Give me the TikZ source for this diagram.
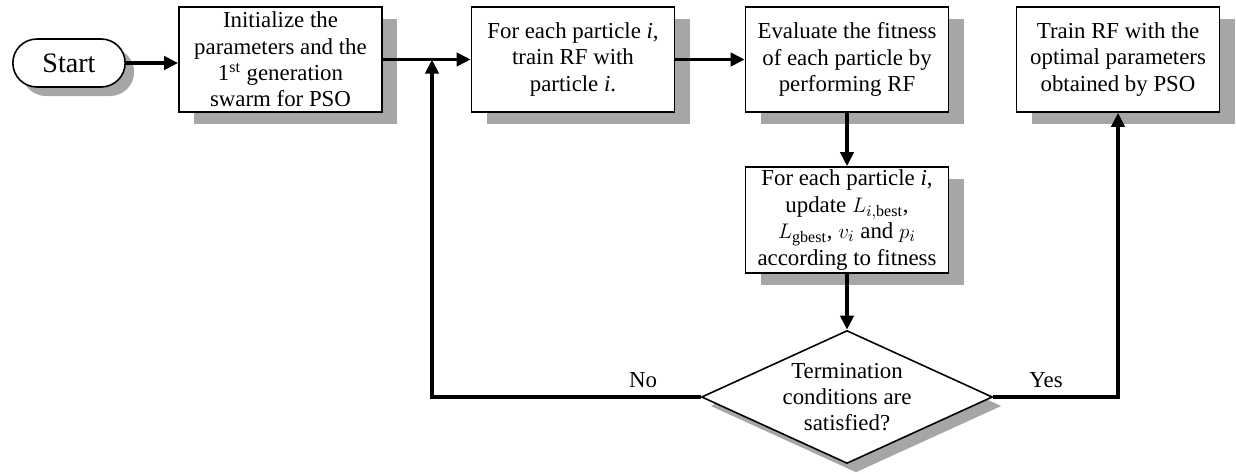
\documentclass[tikz,border=0pt]{standalone}
\usepackage{amsmath}
\usepackage{fontspec}
\setmainfont{Liberation Serif}
\usepackage{tikz}
\usetikzlibrary{shapes.geometric,shapes.misc,shadows,arrows.meta}

\begin{document}
\begin{tikzpicture}[
	boxshadow/.style={general shadow={shadow xshift=0.3cm, shadow yshift=-0.24cm, fill=black!35}},
	smallshadow/.style={general shadow={shadow xshift=0.18cm, shadow yshift=-0.18cm, fill=black!35}},
	txt/.style={font=\fontsize{13}{15}\selectfont},
	process/.style={rectangle, draw=black, line width=0.9pt, fill=white, minimum width=4.06cm, minimum height=2.1cm, inner sep=1pt, align=center, txt, boxshadow},
	terminal/.style={rounded rectangle, draw=black, line width=0.9pt, fill=white, minimum width=2.48cm, minimum height=0.96cm, font=\fontsize{16}{18}\selectfont, smallshadow},
	decision/.style={diamond, draw=black, line width=0.9pt, fill=white, minimum width=5.82cm, minimum height=2.66cm, inner sep=0pt, smallshadow},
	flow/.style={line width=2.2pt, -{Triangle[length=8pt,width=7.5pt]}},
	]
	\useasboundingbox (0,0) rectangle (24.72,9.46);
	
	\node[terminal] (start) at (1.38, 8.2) {Start};
	\node[process] (box1) at (5.61, 8.27) {Initialize the\\parameters and the\\1\textsuperscript{st} generation\\swarm for PSO};
	\node[process] (box2) at (11.46, 8.27) {For each particle \textit{i},\\train RF with\\particle \textit{i}.};
	\node[process] (box3) at (16.94, 8.27) {Evaluate the fitness\\of each particle by\\performing RF};
	\node[process] (box4) at (22.36, 8.27) {Train RF with the\\optimal parameters\\obtained by PSO};
	\node[process, minimum height=2.12cm] (update) at (16.94, 5.06) {For each particle \textit{i},\\update $L_{i,\mathrm{best}}$,\\$L_{\mathrm{gbest}}$, $v_i$ and $p_i$\\according to fitness};
	\node[decision] (cond) at (16.94, 1.52) {};
	\node[txt, align=center] (condtext) at (cond.center) {Termination\\conditions are\\satisfied?};
	
	\node[txt] (nolabel) at (12.86, 1.86) {No};
	\node[txt] (yeslabel) at (20.92, 1.86) {Yes};
	\coordinate (join) at (8.64, 8.27);
	
	\draw[flow] (start.east) -- (start.east -| box1.west);
	\draw[flow] (box1) -- (box2);
	\draw[flow] (box2) -- (box3);
	\draw[flow] (box3) -- (update);
	\draw[flow] (update) -- (cond);
	\draw[flow] (cond.west) -| (join);
	\draw[flow] (cond.east) -| (box4.south);
	
\end{tikzpicture}
\end{document}
